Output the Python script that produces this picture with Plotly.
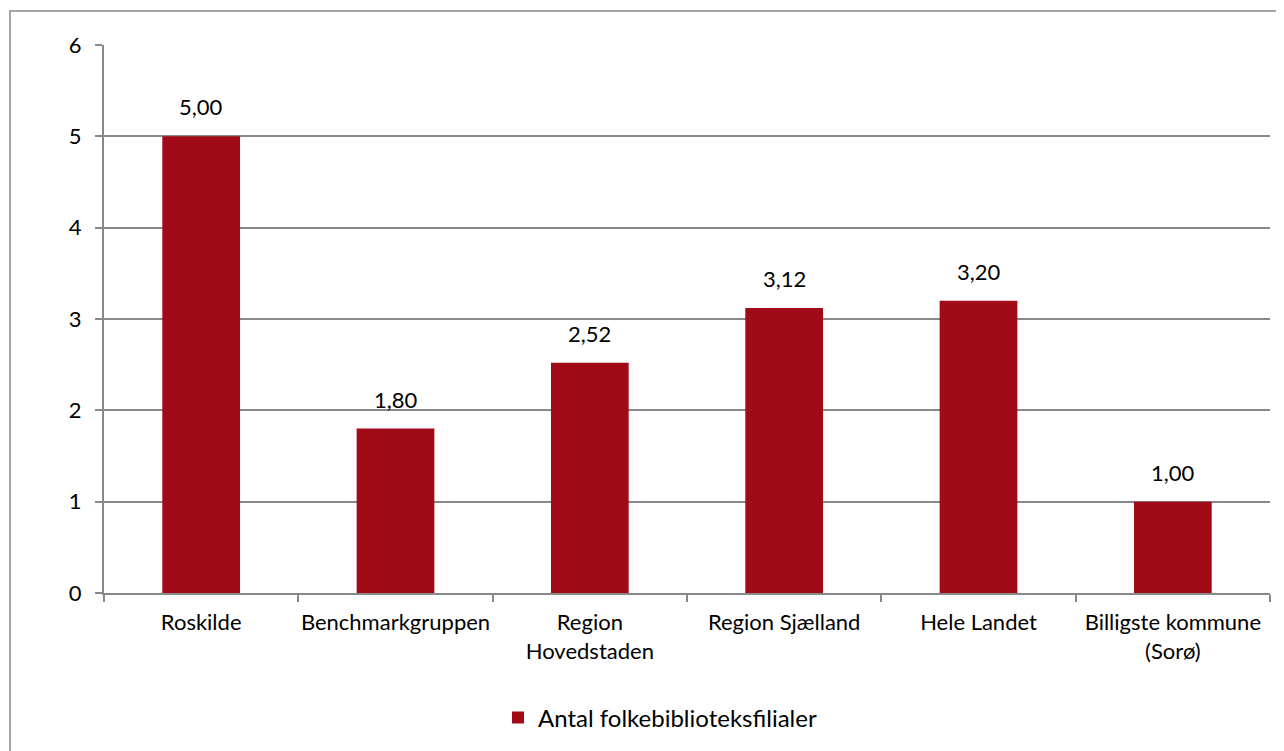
import plotly.graph_objects as go

categories = ["Roskilde", "Benchmarkgruppen", "Region<br>Hovedstaden", "Region Sjælland",
              "Hele Landet", "Billigste kommune<br>(Sorø)"]
values = [5.00, 1.80, 2.52, 3.12, 3.20, 1.00]
series_name = "Antal folkebiblioteksfilialer"
y_ticks = [0, 1, 2, 3, 4, 5, 6]

BAR = "#A10B17"
GRID = "#898989"
FONT = "Lato"
FS = 22

labels = [f"{v:.2f}".replace(".", ",") for v in values]

fig = go.Figure()
fig.add_trace(go.Bar(x=categories, y=values, name=series_name, marker_color=BAR,
                     marker_line_width=0, showlegend=True))

for c, v, t in zip(categories, values, labels):
    fig.add_annotation(x=c, y=v, text=t, showarrow=False, yanchor="bottom",
                       yshift=14, font=dict(family=FONT, size=FS, color="#000"))

OFF = 8  # page body margin
L, R, T, B = 104 - OFF, 1270 - OFF, 45 - OFF, 593 - OFF
W, H = 1276, 743
pw, ph = R - L, B - T

def px(x):
    return (x - OFF - L) / pw

def py(y):
    return (B - (y - OFF)) / ph

fig.add_shape(type="rect", xref="paper", yref="paper",
              x0=px(10), x1=px(1320), y0=py(790), y1=py(11),
              line=dict(color=GRID, width=1.5), fillcolor="rgba(0,0,0,0)", layer="below")

fig.update_layout(
    width=W, height=H,
    margin=dict(l=L, r=W - R, t=T, b=H - B, autoexpand=False),
    paper_bgcolor="white", plot_bgcolor="white",
    bargap=0.6,
    font=dict(family=FONT, size=FS, color="#000"),
    showlegend=True,
    legend=dict(orientation="h", x=px(660), xanchor="center", y=py(718), yanchor="middle",
                font=dict(family=FONT, size=24, color="#000"), bgcolor="rgba(0,0,0,0)"),
    xaxis=dict(showgrid=False, showline=True, linecolor=GRID, linewidth=2,
               ticks="outside", tickson="boundaries", ticklen=7, tickcolor=GRID, tickwidth=2,
               ticklabelstandoff=9, tickangle=0, automargin=False,
               tickfont=dict(family=FONT, size=FS, color="#000")),
    yaxis=dict(range=[0, 6], tickvals=y_ticks, showgrid=True, gridcolor=GRID, gridwidth=2,
               showline=True, linecolor=GRID, linewidth=2, zeroline=False,
               ticks="outside", ticklen=7, tickcolor=GRID, tickwidth=2,
               ticklabelstandoff=9, automargin=False,
               tickfont=dict(family=FONT, size=FS, color="#000")),
)

fig.write_html("out.html")
